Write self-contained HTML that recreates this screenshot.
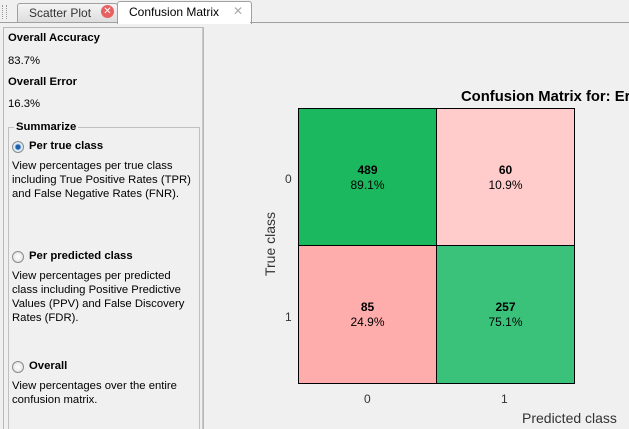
<html style="width:629px;height:429px;overflow:hidden"><head><style>
body{margin:0;width:629px;height:429px;background:#f0f0f0;font-family:"Liberation Sans",sans-serif;position:relative;overflow:hidden}
.a{position:absolute}
.t{font-size:11.3px;color:#000}
.b{font-weight:bold}
.radio{position:absolute;width:10px;height:10px;border-radius:50%;border:1px solid #8a8a8a;background:radial-gradient(#fff,#ddd)}
.cell{position:absolute;border:1px solid #000;box-sizing:border-box;text-align:center;font-size:12px}
</style></head><body>
<div class="a" style="left:0;top:0;width:629px;height:22px;background:#f0f0f0"></div>
<div class="a" style="left:2px;top:5px;width:3px;height:14px;border-left:1px dotted #999;border-right:1px dotted #999"></div>
<div class="a" style="left:17px;top:3px;width:99px;height:19px;background:linear-gradient(#f4f4f4,#dcdcdc);border:1px solid #a0a0a0;border-bottom:none;border-radius:3px 3px 0 0"></div>
<div class="a t" style="left:29px;top:6px;font-size:12px;color:#333">Scatter Plot</div>
<div class="a" style="left:101px;top:5px;width:13px;height:13px;border-radius:50%;background:#e86060;color:#fff;font-size:10px;text-align:center;line-height:13px">✕</div>
<div class="a" style="left:117px;top:1px;width:133px;height:22px;background:#fff;border:1px solid #a0a0a0;border-bottom:none;border-radius:3px 3px 0 0"></div>
<div class="a t" style="left:129px;top:5px;font-size:12px">Confusion Matrix</div>
<div class="a" style="left:233px;top:4px;font-size:12px;color:#aaa">✕</div>
<div class="a" style="left:250px;top:22px;width:379px;height:1px;background:#a0a0a0"></div>
<div class="a" style="left:0;top:22px;width:117px;height:1px;background:#a0a0a0"></div>
<div class="a" style="left:3px;top:27px;width:199px;height:402px;border:1px solid #b8b8b8;border-bottom:none"></div>
<div class="a" style="left:202px;top:28px;width:1px;height:401px;background:#c8c8c8"></div>
<div class="a t b" style="left:8px;top:32px">Overall Accuracy</div>
<div class="a t" style="left:8px;top:55px">83.7%</div>
<div class="a t b" style="left:8px;top:76px">Overall Error</div>
<div class="a t" style="left:8px;top:98px">16.3%</div>
<div class="a" style="left:8px;top:127px;width:190px;height:310px;border:1px solid #c0c0c0"></div>
<div class="a t b" style="left:14px;top:121px;background:#f0f0f0;padding:0 2px">Summarize</div>
<div class="radio" style="left:12px;top:141px;background:radial-gradient(#1a5fa8 30%,#cfe4f8 45%,#fff)"></div>
<div class="a t b" style="left:29px;top:140px">Per true class</div>
<div class="a t" style="left:12px;top:159px;line-height:14px">View percentages per true class<br>including True Positive Rates (TPR)<br>and False Negative Rates (FNR).</div>
<div class="radio" style="left:12px;top:251px"></div>
<div class="a t b" style="left:29px;top:250px">Per predicted class</div>
<div class="a t" style="left:12px;top:269px;line-height:14px">View percentages per predicted<br>class including Positive Predictive<br>Values (PPV) and False Discovery<br>Rates (FDR).</div>
<div class="radio" style="left:12px;top:361px"></div>
<div class="a t b" style="left:29px;top:360px">Overall</div>
<div class="a t" style="left:12px;top:379px;line-height:14px">View percentages over the entire<br>confusion matrix.</div>
<div class="a b" style="left:461px;top:89px;font-size:14.8px;white-space:nowrap">Confusion Matrix for: Er</div>
<div class="cell" style="left:298px;top:108px;width:139px;height:138px;background:#1cb85f"><div style="margin-top:54px;line-height:15px"><b>489</b><br>89.1%</div></div>
<div class="cell" style="left:436px;top:108px;width:139px;height:138px;background:#ffcbcb"><div style="margin-top:54px;line-height:15px"><b>60</b><br>10.9%</div></div>
<div class="cell" style="left:298px;top:245px;width:139px;height:139px;background:#ffacac"><div style="margin-top:54px;line-height:15px"><b>85</b><br>24.9%</div></div>
<div class="cell" style="left:436px;top:245px;width:139px;height:139px;background:#3ac27b"><div style="margin-top:54px;line-height:15px"><b>257</b><br>75.1%</div></div>
<div class="a" style="left:285px;top:172px;font-size:12px;color:#333">0</div>
<div class="a" style="left:285px;top:310px;font-size:12px;color:#333">1</div>
<div class="a" style="left:364px;top:392px;font-size:12px;color:#333">0</div>
<div class="a" style="left:501px;top:392px;font-size:12px;color:#333">1</div>
<div class="a" style="left:522px;top:410px;font-size:14px;color:#333">Predicted class</div>
<div class="a" style="left:238px;top:236px;font-size:14px;color:#333;transform:rotate(-90deg);white-space:nowrap">True class</div>
</body></html>
